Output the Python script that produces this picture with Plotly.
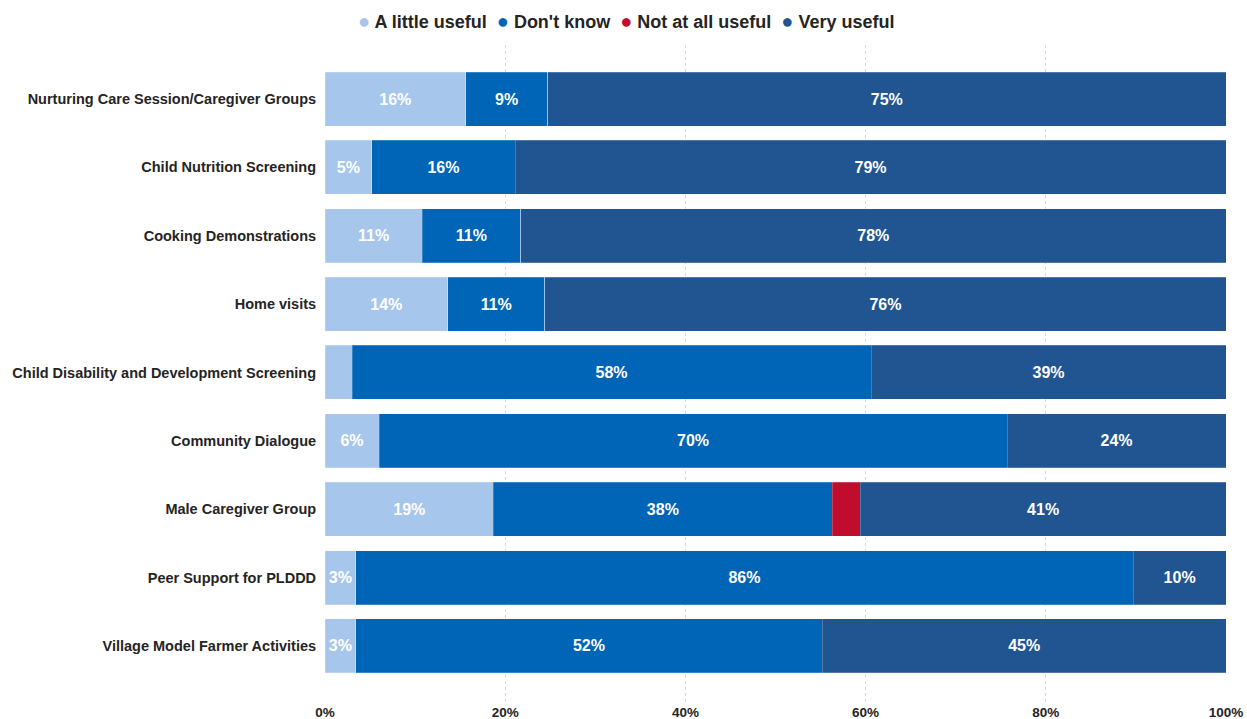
import plotly.graph_objects as go

# Activities, top to bottom
activities = [
    "Nurturing Care Session/Caregiver Groups",
    "Child Nutrition Screening",
    "Cooking Demonstrations",
    "Home visits",
    "Child Disability and Development Screening",
    "Community Dialogue",
    "Male Caregiver Group",
    "Peer Support for PLDDD",
    "Village Model Farmer Activities",
]

# Share of respondents (%) per response
a_little_useful = [15.6, 5.2, 10.8, 13.6, 3.0, 6.0, 18.7, 3.4, 3.4]
dont_know = [9.1, 15.9, 10.9, 10.8, 57.6, 69.7, 37.6, 86.3, 51.8]
not_at_all_useful = [0, 0, 0, 0, 0, 0, 3.1, 0, 0]
very_useful = [75.3, 78.9, 78.3, 75.6, 39.4, 24.3, 40.6, 10.3, 44.8]

x_ticks = [0, 20, 40, 60, 80, 100]
x_tick_labels = ["0%", "20%", "40%", "60%", "80%", "100%"]

series = [
    ("A little useful", a_little_useful, "#A7C6EC"),
    ("Don't know", dont_know, "#0065B6"),
    ("Not at all useful", not_at_all_useful, "#C00D2E"),
    ("Very useful", very_useful, "#215592"),
]


def pct_label(v):
    if v <= 0:
        return ""
    return f"{int(v + 0.5)}%"


fig = go.Figure()

for name, vals, color in series:
    fig.add_trace(go.Bar(
        y=activities,
        x=vals,
        name=name,
        orientation="h",
        marker=dict(color=color, line=dict(color="rgba(255,255,255,0.35)", width=0.6)),
        text=[pct_label(v) for v in vals],
        textposition="inside",
        insidetextanchor="middle",
        textangle=0,
        textfont=dict(family="Arial, Liberation Sans", size=16, color="white", weight="bold"),
        showlegend=False,
        hovertemplate="%{y}<br>" + name + ": %{x:.1f}%<extra></extra>",
    ))

# Legend row: coloured dot + bold label per response
legend_parts = []
for name, _, color in series:
    legend_parts.append(
        f"<span style='color:{color};font-size:20px'>●</span> {name}"
    )
legend_text = "  ".join(legend_parts)

fig.add_annotation(
    text=legend_text,
    xref="paper", yref="paper",
    x=0.334, y=1.0365,
    xanchor="center", yanchor="middle",
    showarrow=False,
    font=dict(family="Arial, Liberation Sans", size=18, color="#252423", weight="bold"),
)

fig.update_layout(
    width=1247,
    height=719,
    barmode="stack",
    bargap=0.21,
    plot_bgcolor="white",
    paper_bgcolor="white",
    margin=dict(l=325, r=21, t=45, b=17),
    uniformtext=dict(minsize=16, mode="hide"),
    font=dict(family="Arial, Liberation Sans", color="#252423"),
    showlegend=False,
    xaxis=dict(
        range=[0, 100],
        tickvals=x_ticks,
        ticktext=x_tick_labels,
        showgrid=True,
        gridcolor="#D9D9D9",
        griddash="dot",
        gridwidth=1,
        zeroline=False,
        showline=False,
        tickfont=dict(size=13.5, color="#252423", weight="bold"),
        ticks="",
        automargin=False,
        fixedrange=True,
    ),
    yaxis=dict(
        categoryorder="array",
        categoryarray=activities[::-1],
        range=[-0.82, 8.79],
        showgrid=False,
        zeroline=False,
        showline=False,
        ticks="outside",
        ticklen=5,
        tickcolor="rgba(0,0,0,0)",
        tickfont=dict(size=14.5, color="#252423", weight="bold"),
        automargin=False,
        fixedrange=True,
    ),
)

fig.write_html("out.html")
